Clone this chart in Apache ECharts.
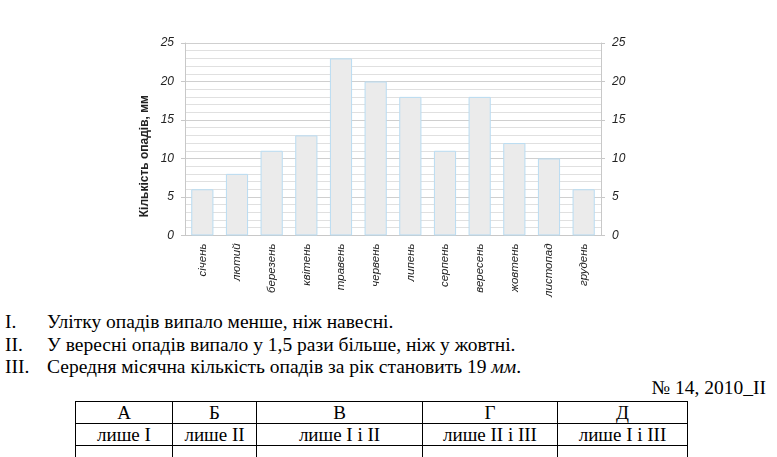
<!DOCTYPE html>
<html><head><meta charset="utf-8">
<script src="https://cdn.jsdelivr.net/npm/echarts@6/dist/echarts.min.js"></script>
<style>
html,body{margin:0;padding:0;background:#fff;width:777px;height:457px;overflow:hidden;}
#chart{position:absolute;left:0;top:0;width:777px;height:300px;}
.t{position:absolute;font-family:"Liberation Serif","Times New Roman",serif;font-size:19.5px;color:#000;white-space:nowrap;line-height:20px;}
table{position:absolute;border-collapse:collapse;font-family:"Liberation Serif","Times New Roman",serif;font-size:19px;color:#000;table-layout:fixed;}
td{border:1px solid #000;text-align:center;padding:0;height:21px;line-height:20px;overflow:hidden;white-space:nowrap;}
</style></head><body>
<div id="chart"></div>
<div class="t" style="left:5px;top:312px">I.</div>
<div class="t" style="left:47px;top:312px">Улітку опадів випало менше, ніж навесні.</div>
<div class="t" style="left:5px;top:335px">II.</div>
<div class="t" style="left:47px;top:335px">У вересні опадів випало у 1,5 рази більше, ніж у жовтні.</div>
<div class="t" style="left:5px;top:357px">III.</div>
<div class="t" style="left:47px;top:357px">Середня місячна кількість опадів за рік становить 19 <i>мм</i>.</div>
<div class="t" style="right:11px;top:378px">№ 14, 2010_II</div>
<table id="tb" style="left:75px;top:401px;width:613px">
<tr><td style="width:96px">А</td><td style="width:83px">Б</td><td style="width:165px">В</td><td style="width:134px">Г</td><td>Д</td></tr>
<tr><td>лише I</td><td>лише II</td><td>лише I і II</td><td>лише II і III</td><td>лише I і III</td></tr>
<tr><td style="border-bottom:none"></td><td style="border-bottom:none"></td><td style="border-bottom:none"></td><td style="border-bottom:none"></td><td style="border-bottom:none"></td></tr>
</table>
<script>
const months = ['січень','лютий','березень','квітень','травень','червень','липень','серпень','вересень','жовтень','листопад','грудень'];
const precipitation = [6, 8, 11, 13, 23, 20, 18, 11, 18, 12, 10, 6];
const yAxisName = 'Кількість опадів, мм';

const chart = echarts.init(document.getElementById('chart'), null, {renderer:'canvas'});
const labelStyle = {fontFamily:'Liberation Sans, Arial, sans-serif', fontStyle:'italic', fontSize:12, color:'#222'};
function yAx(pos){
  return {
    type:'value', position:pos, min:0, max:25, interval:5,
    axisLine:{show:true, lineStyle:{color:'#c8c8c8'}},
    axisTick:{show:true, length:4, lineStyle:{color:'#c8c8c8'}},
    axisLabel:Object.assign({margin:11}, labelStyle),
    splitLine:{show:pos==='left', lineStyle:{color:'#cfcfcf'}},
    minorTick:{show:false, splitNumber:5},
    minorSplitLine:{show:pos==='left', lineStyle:{color:'#e0e0e0'}}
  };
}
chart.setOption({
  animation:false,
  grid:{left:185, right:176, top:43, bottom:63},
  graphic:[{type:'text', left:139, top:95, rotation:Math.PI/2,
    style:{text:yAxisName, font:'bold 12px "Liberation Sans", Arial, sans-serif', fill:'#222'}}],
  xAxis:{type:'category', data:months,
    axisLine:{show:true, lineStyle:{color:'#c8c8c8'}},
    axisTick:{show:false},
    axisLabel:Object.assign({rotate:90, margin:8, interval:0}, labelStyle, {fontSize:11.5})
  },
  yAxis:[yAx('left'), yAx('right')],
  series:[{type:'bar', data:precipitation, barWidth:'64%',
    itemStyle:{color:'#ebebeb', borderColor:'#b9dcf2', borderWidth:1}}]
});
</script>
</body></html>
